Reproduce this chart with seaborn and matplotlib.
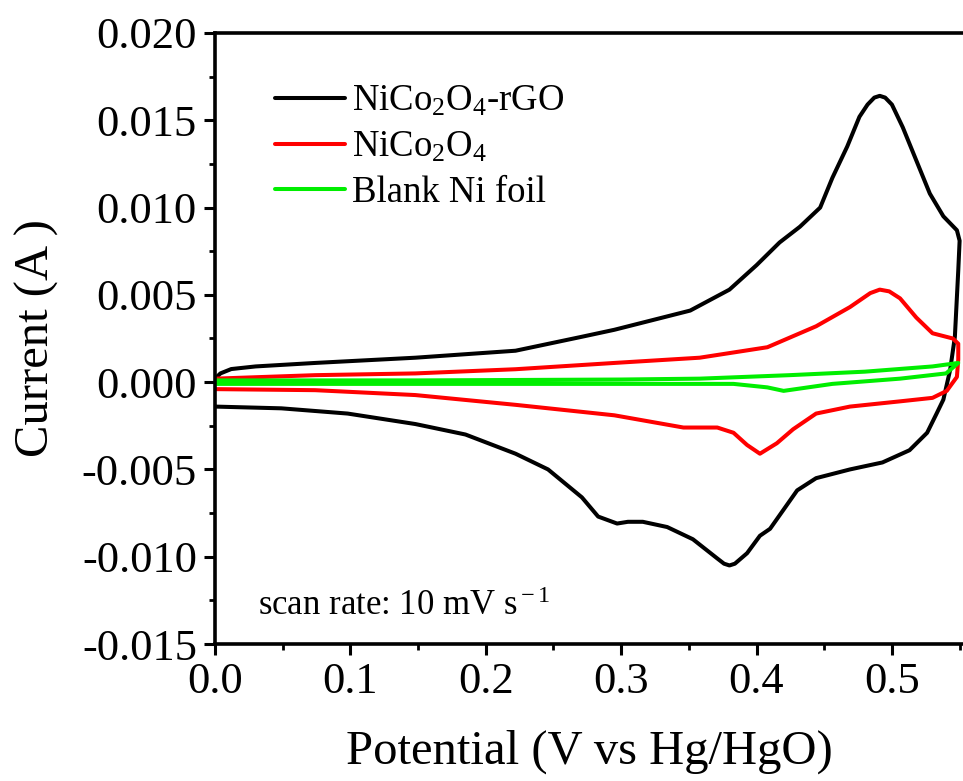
import matplotlib
matplotlib.use("Agg")
import matplotlib.pyplot as plt
import seaborn as sns
import pandas as pd
from matplotlib.ticker import MultipleLocator

# ---- data ----
rgo_x = [0.0, 0.004, 0.012, 0.030, 0.074, 0.148, 0.222, 0.271, 0.295, 0.351, 0.380, 0.400,
         0.417, 0.432, 0.447, 0.456, 0.467, 0.476, 0.482, 0.487, 0.491, 0.495, 0.500, 0.508, 0.518,
         0.528, 0.538, 0.548, 0.550,
         0.549, 0.5465, 0.543, 0.538, 0.533, 0.526, 0.513, 0.493, 0.469, 0.444, 0.430,
         0.420, 0.410, 0.4025, 0.393, 0.384, 0.380, 0.376, 0.371, 0.353, 0.334, 0.316, 0.305, 0.297, 0.283,
         0.271, 0.246, 0.222, 0.185, 0.148, 0.098, 0.049, 0.0]
rgo_y = [0.0002, 0.0005, 0.00075, 0.0009, 0.0011, 0.0014, 0.0018, 0.0026, 0.0030, 0.0041, 0.0053, 0.0067,
         0.0080, 0.0089, 0.0100, 0.0117, 0.0135, 0.0152, 0.0159, 0.0163, 0.0164, 0.0163, 0.0159, 0.0146, 0.0127,
         0.0108, 0.0095, 0.0087, 0.0081,
         0.0064, 0.0026, 0.0007, -0.0010, -0.0018, -0.0029, -0.0039, -0.0046, -0.0050, -0.0055, -0.0062,
         -0.0073, -0.0084, -0.0088, -0.0098, -0.0104, -0.0105, -0.0104, -0.0101, -0.0090, -0.0083, -0.0080, -0.0080, -0.0081, -0.0077,
         -0.0066, -0.0050, -0.0041, -0.0030, -0.0024, -0.0018, -0.0015, -0.0014]

nco_x = [0.0, 0.074, 0.148, 0.222, 0.295, 0.358, 0.408, 0.444, 0.469, 0.484, 0.491, 0.498, 0.506, 0.518,
         0.530, 0.545, 0.549, 0.549, 0.548, 0.5405, 0.530, 0.506, 0.469, 0.444, 0.427, 0.415,
         0.4025, 0.393, 0.383, 0.371, 0.358, 0.346, 0.295, 0.222, 0.148, 0.074, 0.0]
nco_y = [0.0002, 0.0004, 0.0005, 0.00074, 0.0011, 0.0014, 0.0020, 0.0032, 0.0043, 0.0051, 0.0053, 0.0052, 0.0048, 0.0037,
         0.0028, 0.0025, 0.0022, 0.0013, 0.0003, -0.0005, -0.0009, -0.0011, -0.0014, -0.0018, -0.0027, -0.0035,
         -0.0041, -0.0036, -0.0029, -0.0026, -0.0026, -0.0026, -0.0019, -0.0013, -0.00074, -0.00046, -0.0004]

ni_x = [0.0, 0.15, 0.30, 0.358, 0.4245, 0.48, 0.530, 0.549, 0.540, 0.506, 0.456, 0.420,
        0.408, 0.383, 0.358, 0.2, 0.0]
ni_y = [0.0001, 0.0001, 0.00015, 0.0002, 0.0004, 0.0006, 0.0009, 0.0011, 0.0005, 0.0002, -0.0001, -0.0005,
        -0.0003, -0.0001, -0.0001, -0.0001, -0.0001]

labels = ["NiCo$_{\\rm 2}$O$_{\\rm 4}$-rGO", "NiCo$_{\\rm 2}$O$_{\\rm 4}$", "Blank Ni foil"]
colors = ["#000000", "#ff0000", "#00ee00"]
x_ticks = [0.0, 0.1, 0.2, 0.3, 0.4, 0.5]
y_ticks = [-0.015, -0.010, -0.005, 0.000, 0.005, 0.010, 0.015, 0.020]

sns.set_style("ticks", {"axes.edgecolor": "black", "text.color": "black",
                        "axes.labelcolor": "black", "xtick.color": "black",
                        "ytick.color": "black"})
plt.rcParams['font.family'] = ['Liberation Serif', 'DejaVu Serif']
plt.rcParams['mathtext.fontset'] = 'custom'
plt.rcParams['mathtext.rm'] = 'Liberation Serif'
plt.rcParams['mathtext.it'] = 'Liberation Serif:italic'

fig = plt.figure(figsize=(9.63, 7.81), dpi=100)
ax = fig.add_axes([215/963, 1-644/781, 1-215/963, (644-33)/781])

series = [(rgo_x, rgo_y), (nco_x, nco_y), (ni_x, ni_y)]
for (xs, ys), lab, col in zip(series, labels, colors):
    df = pd.DataFrame({"Potential": xs, "Current": ys})
    sns.lineplot(data=df, x="Potential", y="Current", sort=False, estimator=None,
                 color=col, lw=2.9, label=lab, ax=ax)

ax.set_xlim(0.0, 0.5525)
ax.set_ylim(-0.015, 0.020)
ax.set_xticks(x_ticks)
ax.set_xticklabels([f"{v:.1f}" for v in x_ticks])
ax.set_yticks(y_ticks)
ax.set_yticklabels([f"{v:.3f}" for v in y_ticks])
ax.xaxis.set_minor_locator(MultipleLocator(0.05))
ax.yaxis.set_minor_locator(MultipleLocator(0.0025))
ax.tick_params(which='major', direction='out', length=8, width=2.2, labelsize=32, pad=5,
               colors='black')
ax.tick_params(which='minor', direction='out', length=4.5, width=2.0, colors='black')
for s in ['left', 'bottom', 'top']:
    ax.spines[s].set_linewidth(2.6)
    ax.spines[s].set_color('black')
ax.spines['right'].set_visible(False)

ax.set_xlabel("Potential (V vs Hg/HgO)", fontsize=35, labelpad=20)
ax.set_ylabel("Current (A )", fontsize=35, labelpad=16)

leg = ax.legend(loc='upper left', bbox_to_anchor=(0.060, 0.94), frameon=False,
                fontsize=26.5, handlelength=1.9, handletextpad=0.2, labelspacing=0.3,
                borderaxespad=0.0)
for line in leg.get_lines():
    line.set_linewidth(2.9)

ax.text(0.057, 0.047, "scan rate: 10 mV s$^{\\rm -1}$", transform=ax.transAxes,
        fontsize=25, ha='left', va='baseline')

fig.savefig("out.png", dpi=100)
